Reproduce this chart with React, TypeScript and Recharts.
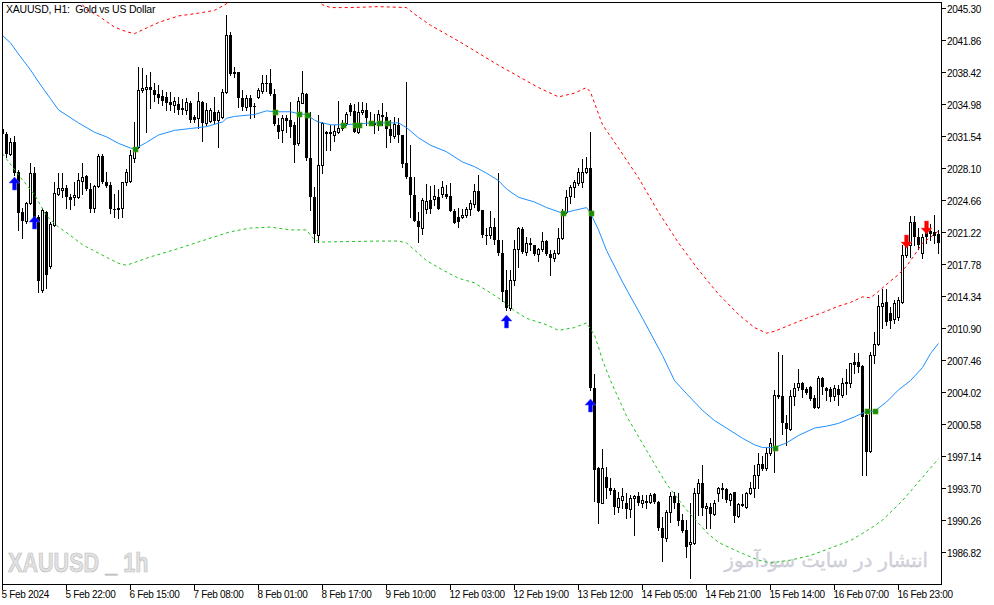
import React from "react";
import { ComposedChart, Bar, Line, Scatter, XAxis, YAxis } from "recharts";

// XAUUSD H1 candles, 5 Feb -> 19 Feb 2024 (one entry per hourly bar)
const opens = [
  2032.3, 2031.8, 2029.7, 2031.0, 2027.7, 2023.4, 2022.5, 2024.4, 2027.6, 2022.9,
  2015.0, 2023.4, 2017.6, 2022.0, 2025.4, 2025.8, 2026.0, 2025.0, 2025.0, 2025.0,
  2026.8, 2027.3, 2025.9, 2023.9, 2026.2, 2029.4, 2026.6, 2026.3, 2023.7, 2023.9,
  2023.9, 2026.7, 2026.8, 2029.2, 2030.4, 2036.5, 2036.7, 2036.9, 2036.5, 2036.1,
  2035.9, 2035.8, 2035.2, 2034.9, 2035.0, 2034.5, 2034.4, 2035.1, 2033.6, 2033.5,
  2035.2, 2033.0, 2033.2, 2034.2, 2033.3, 2033.6, 2036.3, 2042.4, 2038.5, 2038.5,
  2035.7, 2034.7, 2035.7, 2034.8, 2035.8, 2036.4, 2037.3, 2037.3, 2036.1, 2032.8,
  2032.2, 2033.5, 2033.3, 2032.8, 2030.8, 2035.1, 2036.1, 2029.2, 2025.0, 2021.0,
  2028.5, 2032.0, 2032.0, 2031.7, 2032.0, 2032.5, 2033.0, 2034.9, 2034.3, 2032.0,
  2034.2, 2034.4, 2033.1, 2033.0, 2033.0, 2033.8, 2033.6, 2032.4, 2031.6, 2032.8,
  2031.7, 2028.7, 2027.2, 2025.2, 2022.5, 2021.7, 2023.8, 2024.7, 2024.8, 2025.0,
  2025.4, 2025.4, 2025.1, 2023.5, 2022.9, 2022.9, 2023.1, 2023.8, 2024.3, 2025.7,
  2023.6, 2021.0, 2020.9, 2021.8, 2020.4, 2019.0, 2015.0, 2013.1, 2016.1, 2019.5,
  2021.6, 2019.1, 2020.0, 2019.9, 2018.9, 2019.5, 2020.3, 2018.9, 2018.5, 2019.0,
  2020.6, 2023.4, 2025.1, 2026.1, 2026.5, 2026.6, 2027.7, 2028.2, 2004.5, 1995.9,
  1992.1, 1994.9, 1993.7, 1993.5, 1991.7, 1992.5, 1992.1, 1991.5, 1992.7, 1992.9,
  1992.1, 1992.3, 1992.2, 1993.1, 1992.3, 1989.5, 1988.4, 1991.2, 1992.9, 1992.1,
  1990.3, 1989.2, 1987.7, 1987.8, 1993.2, 1994.3, 1991.6, 1991.7, 1991.0, 1993.2,
  1993.6, 1993.6, 1992.5, 1993.3, 1990.7, 1992.0, 1991.7, 1993.2, 1993.8, 1995.1,
  1996.3, 1995.9, 1997.5, 1998.1, 2003.6, 2003.6, 2000.7, 2000.1, 2003.6, 2004.6,
  2005.0, 2004.4, 2004.6, 2003.4, 2002.5, 2005.6, 2004.5, 2004.4, 2003.6, 2004.4,
  2003.8, 2005.0, 2005.0, 2007.3, 2007.3, 2006.9, 2001.6, 1997.7, 2008.0, 2009.2,
  2013.3, 2013.7, 2012.6, 2011.9, 2012.1, 2013.7, 2018.8, 2019.9, 2022.3, 2020.7,
  2019.0, 2021.4, 2021.4, 2021.3, 2021.1,
];
const highs = [
  2032.5, 2032.0, 2031.4, 2031.6, 2027.9, 2023.9, 2024.5, 2028.7, 2028.3, 2023.1,
  2023.9, 2023.5, 2022.3, 2026.6, 2027.6, 2027.6, 2026.3, 2025.4, 2026.6, 2027.6,
  2028.7, 2027.4, 2026.5, 2026.3, 2029.7, 2029.7, 2027.7, 2026.6, 2025.4, 2025.8,
  2026.7, 2028.1, 2030.1, 2033.1, 2039.0, 2038.9, 2038.1, 2038.5, 2037.3, 2037.1,
  2036.5, 2036.3, 2036.3, 2035.8, 2035.8, 2035.6, 2035.7, 2035.4, 2033.8, 2036.3,
  2035.4, 2035.1, 2034.6, 2035.8, 2034.4, 2036.7, 2044.6, 2042.8, 2039.0, 2038.5,
  2036.5, 2036.0, 2036.0, 2035.1, 2036.8, 2038.1, 2038.2, 2038.8, 2036.6, 2033.5,
  2033.8, 2033.8, 2035.2, 2033.1, 2035.8, 2038.6, 2036.2, 2034.2, 2026.1, 2033.8,
  2033.1, 2032.1, 2032.8, 2032.8, 2035.4, 2033.3, 2034.2, 2035.1, 2035.0, 2035.2,
  2035.2, 2035.1, 2034.2, 2034.0, 2034.4, 2035.1, 2034.2, 2033.3, 2033.6, 2033.5,
  2031.7, 2037.4, 2030.6, 2027.2, 2023.4, 2024.9, 2026.4, 2026.2, 2026.3, 2025.9,
  2026.8, 2026.3, 2026.5, 2023.8, 2023.9, 2023.8, 2024.0, 2024.7, 2026.4, 2027.4,
  2023.6, 2021.7, 2023.5, 2022.8, 2027.6, 2020.4, 2017.2, 2017.2, 2020.4, 2021.8,
  2021.8, 2020.7, 2020.6, 2019.9, 2019.6, 2021.3, 2020.4, 2019.3, 2019.3, 2021.7,
  2023.8, 2025.8, 2026.3, 2026.9, 2028.2, 2029.1, 2029.3, 2032.0, 2006.0, 1996.0,
  1997.9, 1996.0, 1994.8, 1993.8, 1993.3, 1993.8, 1993.2, 1993.0, 1993.0, 1993.3,
  1993.0, 1993.0, 1993.2, 1993.2, 1992.4, 1990.6, 1991.4, 1993.3, 1993.3, 1993.2,
  1991.0, 1990.3, 1992.1, 1993.7, 1994.7, 1996.2, 1992.1, 1992.1, 1992.5, 1993.9,
  1994.3, 1993.8, 1993.2, 1993.3, 1992.1, 1993.1, 1993.3, 1994.4, 1996.2, 1997.5,
  1997.2, 1998.0, 1999.1, 2004.3, 2008.4, 2008.1, 2001.6, 2004.3, 2005.0, 2006.5,
  2005.1, 2004.6, 2004.7, 2003.7, 2005.8, 2005.7, 2004.6, 2004.6, 2004.8, 2004.8,
  2005.6, 2006.5, 2007.2, 2008.3, 2008.3, 2007.0, 2001.9, 2008.4, 2010.5, 2014.5,
  2015.1, 2015.2, 2013.2, 2014.0, 2014.3, 2019.9, 2020.7, 2023.0, 2023.0, 2021.7,
  2021.1, 2022.3, 2022.1, 2023.1, 2021.5,
];
const lows = [
  2031.4, 2029.3, 2029.5, 2027.4, 2021.5, 2020.6, 2022.2, 2024.3, 2022.0, 2014.8,
  2014.8, 2015.3, 2017.4, 2021.9, 2025.2, 2025.0, 2023.9, 2023.8, 2024.2, 2024.9,
  2025.4, 2025.8, 2023.4, 2023.4, 2026.1, 2026.5, 2026.1, 2023.3, 2022.9, 2022.8,
  2022.9, 2026.3, 2026.6, 2028.8, 2030.3, 2036.3, 2032.0, 2034.6, 2035.4, 2035.1,
  2034.9, 2034.4, 2034.4, 2034.2, 2034.0, 2034.0, 2034.0, 2033.1, 2033.1, 2032.5,
  2031.1, 2032.8, 2033.1, 2033.0, 2030.4, 2033.5, 2036.2, 2038.1, 2037.9, 2034.7,
  2034.4, 2034.4, 2033.5, 2033.6, 2035.7, 2036.2, 2036.4, 2036.0, 2032.8, 2031.4,
  2030.9, 2032.0, 2031.5, 2028.8, 2030.6, 2035.1, 2029.0, 2023.6, 2020.2, 2020.2,
  2027.6, 2030.1, 2030.1, 2031.1, 2031.9, 2032.2, 2032.8, 2033.8, 2032.0, 2031.9,
  2034.0, 2032.8, 2032.8, 2031.9, 2032.2, 2032.8, 2030.4, 2030.9, 2031.4, 2030.9,
  2028.3, 2027.1, 2022.9, 2022.5, 2020.2, 2021.1, 2023.3, 2023.3, 2024.2, 2023.8,
  2025.0, 2024.9, 2023.5, 2022.2, 2021.8, 2022.8, 2022.9, 2023.1, 2024.0, 2023.5,
  2020.7, 2020.0, 2020.6, 2020.0, 2018.8, 2013.9, 2012.9, 2012.9, 2015.6, 2017.5,
  2019.0, 2018.8, 2019.3, 2018.8, 2018.2, 2019.2, 2018.8, 2016.7, 2018.2, 2018.9,
  2020.5, 2023.3, 2024.4, 2025.0, 2026.3, 2026.1, 2027.6, 2004.3, 1992.4, 1990.0,
  1992.1, 1992.7, 1993.1, 1991.0, 1991.2, 1991.6, 1990.5, 1990.6, 1988.7, 1991.9,
  1991.7, 1991.6, 1992.1, 1992.1, 1989.2, 1985.9, 1988.1, 1990.1, 1991.6, 1989.8,
  1989.0, 1986.3, 1984.1, 1987.7, 1990.8, 1990.8, 1989.5, 1989.4, 1990.8, 1992.4,
  1992.7, 1992.2, 1991.9, 1990.1, 1990.6, 1991.8, 1991.6, 1993.1, 1992.8, 1993.7,
  1995.7, 1995.7, 1997.3, 1995.5, 2003.4, 1999.6, 1998.4, 2000.0, 2002.7, 2004.3,
  2003.5, 2003.9, 2003.2, 2002.3, 2002.3, 2003.9, 2003.2, 2003.1, 2003.2, 2002.7,
  2003.5, 2003.9, 2004.6, 2006.1, 2006.2, 1995.2, 1995.1, 1997.6, 2007.2, 2009.1,
  2010.9, 2011.3, 2011.0, 2011.5, 2011.8, 2013.6, 2018.6, 2018.6, 2019.9, 2019.5,
  2018.5, 2020.1, 2020.4, 2020.1, 2019.0,
];
const closes = [
  2031.8, 2029.7, 2030.9, 2027.6, 2023.3, 2022.5, 2024.4, 2027.6, 2022.2, 2016.0,
  2023.6, 2016.6, 2022.1, 2025.5, 2026.0, 2026.0, 2025.0, 2024.7, 2025.3, 2026.9,
  2027.2, 2025.9, 2023.8, 2026.2, 2029.4, 2026.6, 2026.2, 2023.7, 2023.6, 2023.6,
  2026.7, 2027.7, 2029.5, 2030.4, 2036.5, 2036.8, 2036.9, 2036.5, 2036.0, 2035.7,
  2035.4, 2035.1, 2034.9, 2035.4, 2034.4, 2034.6, 2035.2, 2033.3, 2033.3, 2035.4,
  2033.0, 2034.4, 2034.4, 2033.2, 2034.2, 2036.3, 2042.4, 2038.3, 2038.3, 2035.7,
  2034.7, 2035.7, 2034.7, 2034.7, 2036.5, 2037.3, 2037.2, 2036.1, 2032.9, 2032.0,
  2033.5, 2033.2, 2032.6, 2030.6, 2035.4, 2036.2, 2029.2, 2025.0, 2021.1, 2028.5,
  2033.0, 2031.8, 2031.8, 2032.1, 2032.5, 2033.0, 2034.0, 2034.2, 2032.0, 2034.2,
  2034.4, 2033.5, 2032.9, 2032.8, 2034.0, 2033.6, 2032.4, 2031.6, 2032.9, 2031.7,
  2028.6, 2027.2, 2025.2, 2022.5, 2021.8, 2024.7, 2024.6, 2023.8, 2025.1, 2023.8,
  2026.1, 2025.0, 2023.5, 2022.2, 2022.3, 2023.1, 2023.8, 2024.4, 2025.7, 2023.5,
  2020.9, 2020.8, 2021.8, 2020.4, 2019.0, 2014.8, 2013.1, 2016.1, 2019.5, 2021.7,
  2019.1, 2020.1, 2020.1, 2018.9, 2019.5, 2020.3, 2018.9, 2018.5, 2019.0, 2020.6,
  2023.3, 2025.0, 2026.1, 2026.6, 2027.7, 2027.7, 2028.2, 2004.5, 1995.7, 1992.1,
  1995.9, 1993.7, 1993.4, 1991.7, 1992.7, 1992.9, 1991.5, 1992.7, 1992.9, 1992.1,
  1992.5, 1992.4, 1993.0, 1992.2, 1989.4, 1988.4, 1991.2, 1992.9, 1992.1, 1990.2,
  1989.1, 1987.4, 1987.9, 1993.2, 1994.3, 1991.6, 1991.8, 1991.0, 1992.1, 1993.7,
  1993.7, 1992.5, 1993.1, 1990.7, 1992.0, 1991.8, 1993.2, 1993.8, 1995.1, 1996.3,
  1995.8, 1997.5, 1998.6, 2003.7, 2003.8, 2000.7, 2000.1, 2003.6, 2004.5, 2005.0,
  2004.3, 2004.0, 2003.3, 2002.4, 2005.6, 2004.6, 2004.2, 2003.5, 2004.5, 2003.8,
  2005.0, 2005.1, 2007.2, 2007.0, 2006.8, 2001.4, 1997.6, 2008.0, 2009.2, 2013.3,
  2013.6, 2011.6, 2011.7, 2013.6, 2014.0, 2018.8, 2019.9, 2022.3, 2020.7, 2019.9,
  2020.7, 2020.7, 2021.1, 2020.8, 2020.1,
];

// time axis: a label every 16 bars
const timeTickBars = [0, 16, 32, 48, 64, 80, 96, 112, 128, 144, 160, 176, 192, 208, 224];
const timeLabels = [
  "5 Feb 2024", "5 Feb 22:00", "6 Feb 15:00", "7 Feb 08:00", "8 Feb 01:00",
  "8 Feb 17:00", "9 Feb 10:00", "12 Feb 03:00", "12 Feb 19:00", "13 Feb 12:00",
  "14 Feb 05:00", "14 Feb 21:00", "15 Feb 14:00", "16 Feb 07:00", "16 Feb 23:00",
];
const priceTicks = [
  2045.3, 2041.86, 2038.42, 2034.98, 2031.54, 2028.1, 2024.66, 2021.22, 2017.78,
  2014.34, 2010.9, 2007.46, 2004.02, 2000.58, 1997.14, 1993.7, 1990.26, 1986.82,
];

// moving average (blue)
const maBars = [
  0, 2, 4, 7, 9, 12, 14, 19, 23, 26, 29, 32, 33, 36, 39, 43, 47, 51, 55, 56,
  58, 63, 66, 68, 72, 74, 76, 78, 79, 82, 85, 89, 92, 94, 99, 101, 104, 107, 111, 115,
  118, 121, 124, 126, 129, 133, 136, 140, 143, 146, 147, 149, 151, 155, 160, 165, 168, 171, 175, 178,
  181, 185, 188, 190, 193, 196, 199, 203, 206, 209, 213, 216, 218, 221, 224, 227, 230, 232, 234,
];
const maVals = [
  2042.4, 2041.6, 2040.4, 2038.7, 2037.4, 2035.6, 2034.4, 2033.0, 2032.0, 2031.5,
  2030.8, 2030.3, 2030.2, 2030.9, 2031.7, 2032.2, 2032.4, 2032.6, 2033.1, 2033.5,
  2033.7, 2033.9, 2034.3, 2034.2, 2034.2, 2034.0, 2033.9, 2033.3, 2033.1, 2032.8,
  2032.8, 2032.9, 2033.0, 2033.0, 2033.0, 2032.5, 2031.4, 2030.6, 2029.9, 2028.8,
  2028.3, 2027.6, 2026.8, 2025.9, 2025.0, 2024.5, 2023.9, 2023.3, 2023.6, 2023.9,
  2023.3, 2021.5, 2019.3, 2015.9, 2012.0, 2008.0, 2005.3, 2003.9, 2002.1, 2001.0,
  2000.2, 1999.1, 1998.4, 1998.1, 1998.1, 1998.6, 1999.4, 2000.2, 2000.4, 2000.7,
  2001.4, 2002.0, 2002.0, 2003.0, 2004.3, 2005.3, 2006.7, 2008.2, 2009.3,
];

// upper band (red dotted)
const upperBars = [
  19, 21, 24, 28, 31, 33, 36, 39, 44, 49, 53, 56, 57, 78, 80, 82, 87, 94, 101, 103,
  107, 114, 124, 134, 139, 143, 146, 147, 150, 154, 159, 164, 169, 174, 179, 184, 188, 191, 193, 197,
  201, 205, 209, 212, 215, 217, 219, 222, 224, 226, 228, 230, 232, 234,
];
const upperVals = [
  2046.2, 2045.2, 2044.5, 2043.3, 2042.8, 2042.6, 2043.2, 2043.8, 2044.5, 2044.8,
  2045.1, 2045.8, 2046.4, 2046.4, 2045.7, 2045.4, 2045.4, 2045.5, 2045.4, 2044.7,
  2043.5, 2041.8, 2039.2, 2036.8, 2035.8, 2036.2, 2036.8, 2036.3, 2032.8, 2030.3,
  2027.1, 2023.4, 2020.1, 2017.2, 2014.6, 2012.4, 2011.0, 2010.4, 2010.6, 2011.3,
  2012.0, 2012.6, 2013.3, 2013.7, 2014.3, 2014.2, 2014.9, 2016.0, 2016.7, 2017.6,
  2018.8, 2020.1, 2020.7, 2021.4,
];

// lower band (green dotted)
const lowerBars = [
  0, 4, 8, 11, 14, 17, 20, 24, 29, 31, 37, 44, 49, 57, 62, 67, 72, 76, 78, 80,
  94, 99, 101, 106, 110, 114, 118, 121, 125, 128, 131, 136, 139, 143, 146, 148, 149, 150, 152, 156,
  161, 166, 171, 176, 179, 184, 189, 192, 197, 202, 207, 212, 217, 220, 225, 230, 234,
];
const lowerVals = [
  2029.7, 2027.4, 2025.3, 2023.0, 2021.8, 2020.9, 2019.9, 2019.0, 2017.9, 2017.7,
  2018.6, 2019.5, 2020.2, 2021.3, 2021.7, 2021.8, 2021.5, 2021.5, 2020.4, 2020.2,
  2020.3, 2020.3, 2020.1, 2018.2, 2017.2, 2016.3, 2015.8, 2015.0, 2013.9, 2012.8,
  2012.0, 2011.3, 2010.7, 2011.0, 2011.5, 2010.2, 2008.9, 2007.5, 2005.3, 2001.5,
  1997.8, 1994.2, 1991.4, 1989.0, 1987.9, 1986.9, 1986.0, 1985.7, 1986.0, 1986.5,
  1987.3, 1988.1, 1989.4, 1990.3, 1992.4, 1994.9, 1996.9,
];

// price / MA crossings (green squares)
const crossBars = [33, 68, 74, 76, 85, 88, 89, 92, 94, 96, 140, 147, 193, 216, 218];
const crossVals = [
  2030.2, 2034.2, 2034.0, 2033.9, 2032.8, 2032.8, 2032.8, 2033.0, 2033.0, 2033.0,
  2023.3, 2023.3, 1998.1, 2002.0, 2002.0,
];

// signal arrows (price = arrow tip)
const buyBars = [3, 8, 126, 147];
const buyVals = [2027.2, 2023.0, 2012.3, 2003.3];
const sellBars = [226, 231];
const sellVals = [2019.6, 2021.1];

const candles = opens.map((o, i) => ({
  i,
  o,
  h: highs[i],
  l: lows[i],
  c: closes[i],
  range: [lows[i], highs[i]],
}));
const maData = maBars.map((i, k) => ({ i, v: maVals[k] }));
const upperData = upperBars.map((i, k) => ({ i, v: upperVals[k] }));
const lowerData = lowerBars.map((i, k) => ({ i, v: lowerVals[k] }));
const crossData = crossBars.map((i, k) => ({ i, p: crossVals[k] }));
const buyData = buyBars.map((i, k) => ({ i, p: buyVals[k] }));
const sellData = sellBars.map((i, k) => ({ i, p: sellVals[k] }));

const FONT = "Tahoma, 'Liberation Sans', Arial, sans-serif";

function Candle(props: any) {
  const { x, y, width, height, payload } = props;
  if (x == null || y == null || !payload) return null;
  const { o, h, l, c } = payload;
  const yTop = Math.min(y, y + height);
  const yBot = Math.max(y, y + height);
  const span = h - l || 1;
  const py = (p: number) => yTop + ((h - p) / span) * (yBot - yTop);
  const cx = Math.floor(x + width / 2);
  const bTop = Math.round(py(Math.max(o, c)));
  const bBot = Math.round(py(Math.min(o, c)));
  const up = c >= o;
  return (
    <g shapeRendering="crispEdges">
      <line x1={cx + 0.5} x2={cx + 0.5} y1={Math.round(yTop)} y2={Math.round(yBot) + 1} stroke="#000" strokeWidth={1} />
      {up ? (
        <rect x={cx - 0.5} y={bTop + 0.5} width={2} height={Math.max(bBot - bTop, 1)} fill="#fff" stroke="#000" strokeWidth={1} />
      ) : (
        <rect x={cx - 1} y={bTop} width={3} height={Math.max(bBot - bTop, 1)} fill="#000" />
      )}
    </g>
  );
}

function CrossDot(props: any) {
  const { cx, cy } = props;
  if (cx == null) return null;
  return <rect x={Math.round(cx) - 2} y={Math.round(cy) - 2} width={5} height={5} fill="#118c11" stroke="#5aa000" strokeWidth={0.6} />;
}

function BuyArrow(props: any) {
  const { cx, cy } = props;
  if (cx == null) return null;
  const x = Math.floor(cx) + 0.5;
  const t = Math.round(cy);
  const pts = [
    [x, t], [x + 5.5, t + 6], [x + 2, t + 6], [x + 2, t + 13],
    [x - 2, t + 13], [x - 2, t + 6], [x - 5.5, t + 6],
  ].map((p) => p.join(",")).join(" ");
  return <polygon points={pts} fill="#0000ff" stroke="#5050ff" strokeWidth={0.5} />;
}

function SellArrow(props: any) {
  const { cx, cy } = props;
  if (cx == null) return null;
  const x = Math.floor(cx) + 0.5;
  const t = Math.round(cy);
  const pts = [
    [x, t], [x + 5.5, t - 6], [x + 2, t - 6], [x + 2, t - 13],
    [x - 2, t - 13], [x - 2, t - 6], [x - 5.5, t - 6],
  ].map((p) => p.join(",")).join(" ");
  return <polygon points={pts} fill="#ff0000" stroke="#ff5050" strokeWidth={0.5} />;
}

function TimeTick(props: any) {
  const { x, payload } = props;
  const k = timeTickBars.indexOf(payload.value);
  const tx = Math.floor(x) + 0.5;
  return (
    <g>
      <line x1={tx} x2={tx} y1={585} y2={590} stroke="#000" strokeWidth={1} />
      <text x={tx - 1} y={598} fontSize={10} fontFamily={FONT} fill="#000" letterSpacing={-0.3}>
        {k >= 0 ? timeLabels[k] : ""}
      </text>
    </g>
  );
}

function PriceTick(props: any) {
  const { y, payload } = props;
  const ty = Math.floor(y) + 0.5;
  return (
    <g>
      <line x1={941} x2={946} y1={ty} y2={ty} stroke="#000" strokeWidth={1} />
      <text x={947} y={ty + 4} fontSize={10} fontFamily={FONT} fill="#000" letterSpacing={-0.3}>
        {Number(payload.value).toFixed(2)}
      </text>
    </g>
  );
}

export default function App() {
  return (
    <div style={{ position: "absolute", left: 0, top: 0, width: 994, height: 605, background: "#fff" }}>
      <div
        style={{
          position: "absolute", left: 8, top: 548, fontFamily: "'Liberation Sans', Arial, sans-serif", fontWeight: "bold",
          fontSize: 27, color: "#e2e2e2", WebkitTextStroke: "0.7px #bdbdbd", whiteSpace: "pre",
          transform: "scaleX(0.8)", transformOrigin: "0 0",
        }}
      >
        XAUUSD _ 1h
      </div>
      <div
        dir="rtl"
        style={{
          position: "absolute", left: 700, top: 549, width: 228, textAlign: "right",
          fontFamily: "'DejaVu Sans', sans-serif", fontSize: 19.5, color: "#d4d4de", whiteSpace: "nowrap",
          WebkitTextStroke: "0.3px #c0c0cc",
        }}
      >
        انتشار در سایت سودآموز
      </div>
      <div style={{ position: "absolute", left: 0, top: 0 }}>
        <ComposedChart
          width={994}
          height={605}
          data={candles}
          margin={{ top: 2, right: 0, bottom: 0, left: 2 }}
        >
          <XAxis
            dataKey="i"
            type="number"
            domain={[-0.125, 234.875]}
            allowDataOverflow
            ticks={timeTickBars}
            interval={0}
            height={20}
            axisLine={false}
            tickLine={false}
            tick={(p: any) => <TimeTick {...p} />}
          />
          <YAxis
            type="number"
            orientation="right"
            domain={[1983.326, 2045.999]}
            allowDataOverflow
            ticks={priceTicks}
            interval={0}
            width={52}
            axisLine={false}
            tickLine={false}
            tick={(p: any) => <PriceTick {...p} />}
          />
          <Bar dataKey="range" barSize={3} shape={(p: any) => <Candle {...p} />} isAnimationActive={false} />
          <Line data={maData} dataKey="v" type="linear" stroke="#1e90ff" strokeWidth={1} dot={false} isAnimationActive={false} />
          <Line data={upperData} dataKey="v" type="linear" stroke="#ff0000" strokeWidth={1} strokeDasharray="3 3" dot={false} isAnimationActive={false} />
          <Line data={lowerData} dataKey="v" type="linear" stroke="#1fc41f" strokeWidth={1} strokeDasharray="3 3" dot={false} isAnimationActive={false} />
          <Scatter data={crossData} dataKey="p" shape={(p: any) => <CrossDot {...p} />} isAnimationActive={false} />
          <Scatter data={buyData} dataKey="p" shape={(p: any) => <BuyArrow {...p} />} isAnimationActive={false} />
          <Scatter data={sellData} dataKey="p" shape={(p: any) => <SellArrow {...p} />} isAnimationActive={false} />
        </ComposedChart>
      </div>
      <div
        style={{
          position: "absolute", left: 2, top: 2, width: 940, height: 583,
          border: "1px solid #000", boxSizing: "border-box", pointerEvents: "none",
        }}
      />
      <div style={{ position: "absolute", left: 6, top: 3, fontFamily: FONT, fontSize: 10.5, letterSpacing: -0.2, color: "#000", whiteSpace: "pre" }}>
        {"XAUUSD, H1:  Gold vs US Dollar"}
      </div>
    </div>
  );
}
